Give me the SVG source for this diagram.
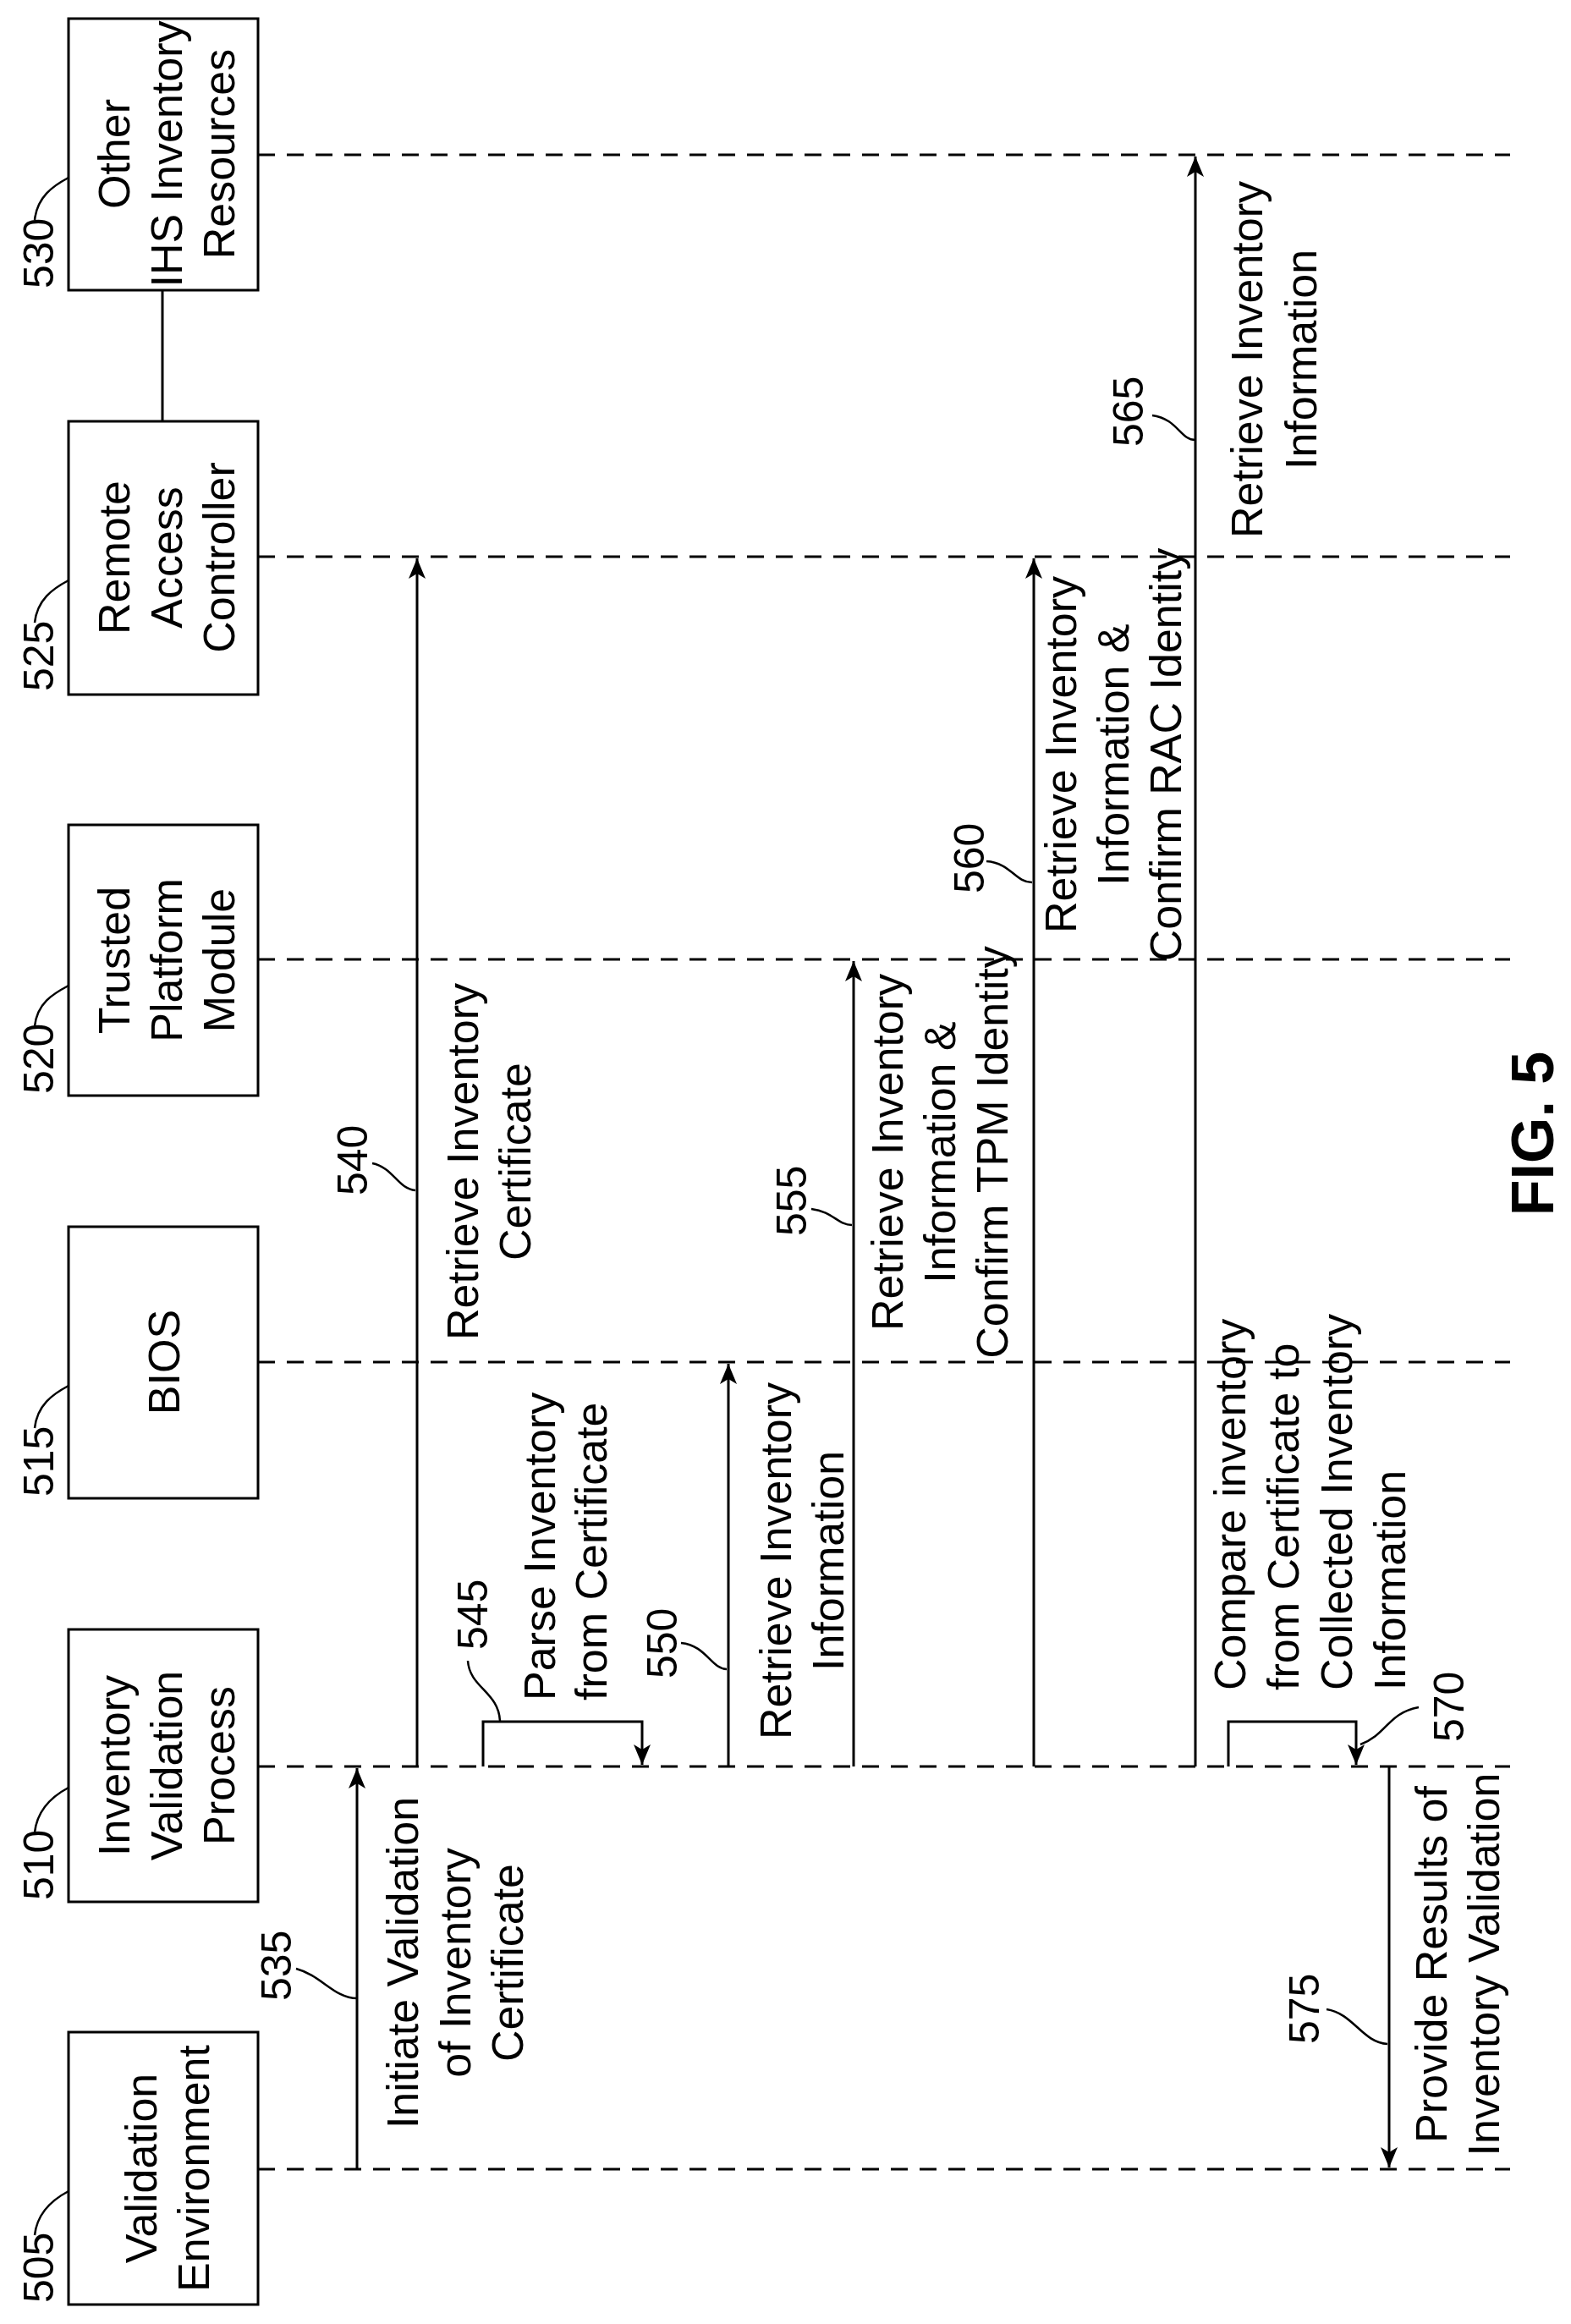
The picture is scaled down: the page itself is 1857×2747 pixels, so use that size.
<svg xmlns="http://www.w3.org/2000/svg" width="1857" height="2747" viewBox="0 0 1857 2747">
<style>
text{font-family:"Liberation Sans",Arial,sans-serif;font-size:52px;fill:#000}
.n{font-size:50px}
.box{fill:#fff;stroke:#000;stroke-width:3}
.life{stroke:#000;stroke-width:3;stroke-dasharray:20 14;fill:none}
.msg{stroke:#000;stroke-width:3;fill:none}
.ld{stroke:#000;stroke-width:2.5;fill:none}
.m{text-anchor:middle}
.e{text-anchor:end}
</style>
<defs>
<marker id="ah" viewBox="0 0 12 10" refX="12" refY="5" markerWidth="8" markerHeight="7" orient="auto" markerUnits="strokeWidth">
<path d="M0,0 L12,5 L0,10 L3,5 z" fill="#000"/>
</marker>
</defs>
<rect width="1857" height="2747" fill="#fff"/>

<g id="lifelines">
<path class="life" d="M305 2564H1785M305 2088H1785M305 1610H1785M305 1134H1785M305 658H1785M305 183H1785"/>
<path class="msg" d="M192 343V498"/>
</g>

<g id="n505">
<rect class="box" x="81" y="2402" width="224" height="322"/>
<text class="m" transform="translate(185,2563) rotate(-90)">Validation</text>
<text class="m" transform="translate(247,2563) rotate(-90)">Environment</text>
<text class="n" transform="translate(63,2722) rotate(-90)">505</text>
<path class="ld" d="M41 2642C44 2615 62 2600 81 2590"/>
</g>
<g id="n510">
<rect class="box" x="81" y="1926" width="224" height="322"/>
<text class="m" transform="translate(153,2087) rotate(-90)">Inventory</text>
<text class="m" transform="translate(215,2087) rotate(-90)">Validation</text>
<text class="m" transform="translate(277,2087) rotate(-90)">Process</text>
<text class="n" transform="translate(63,2246) rotate(-90)">510</text>
<path class="ld" d="M41 2166C44 2139 62 2123 81 2113"/>
</g>
<g id="n515">
<rect class="box" x="81" y="1450" width="224" height="321"/>
<text class="m" transform="translate(212,1610) rotate(-90)">BIOS</text>
<text class="n" transform="translate(63,1769) rotate(-90)">515</text>
<path class="ld" d="M41 1688C44 1661 62 1648 81 1638"/>
</g>
<g id="n520">
<rect class="box" x="81" y="975" width="224" height="320"/>
<text class="m" transform="translate(153,1135) rotate(-90)">Trusted</text>
<text class="m" transform="translate(215,1135) rotate(-90)">Platform</text>
<text class="m" transform="translate(277,1135) rotate(-90)">Module</text>
<text class="n" transform="translate(63,1293) rotate(-90)">520</text>
<path class="ld" d="M41 1213C44 1186 62 1175 81 1165"/>
</g>
<g id="n525">
<rect class="box" x="81" y="498" width="224" height="323"/>
<text class="m" transform="translate(153,659) rotate(-90)">Remote</text>
<text class="m" transform="translate(215,659) rotate(-90)">Access</text>
<text class="m" transform="translate(277,659) rotate(-90)">Controller</text>
<text class="n" transform="translate(63,817) rotate(-90)">525</text>
<path class="ld" d="M41 736C44 709 62 696 81 686"/>
</g>
<g id="n530">
<rect class="box" x="81" y="22" width="224" height="321"/>
<text class="m" transform="translate(153,182) rotate(-90)">Other</text>
<text class="m" transform="translate(215,182) rotate(-90)">IHS Inventory</text>
<text class="m" transform="translate(277,182) rotate(-90)">Resources</text>
<text class="n" transform="translate(63,341) rotate(-90)">530</text>
<path class="ld" d="M41 260C44 233 62 220 81 210"/>
</g>

<g id="connectors">
<path class="msg" d="M422 2564V2090" marker-end="url(#ah)"/>
<path class="msg" d="M493 2088V660" marker-end="url(#ah)"/>
<path class="msg" d="M571 2088V2035H759V2086" marker-end="url(#ah)"/>
<path class="msg" d="M861 2088V1612" marker-end="url(#ah)"/>
<path class="msg" d="M1009 2088V1136" marker-end="url(#ah)"/>
<path class="msg" d="M1222 2088V660" marker-end="url(#ah)"/>
<path class="msg" d="M1413 2088V185" marker-end="url(#ah)"/>
<path class="msg" d="M1452 2088V2035H1603V2086" marker-end="url(#ah)"/>
<path class="msg" d="M1642 2088V2562" marker-end="url(#ah)"/>
</g>

<g id="labels">
<text class="n" transform="translate(344,2365) rotate(-90)">535</text>
<path class="ld" d="M350 2327C380 2335 395 2362 422 2362"/>
<text class="m" transform="translate(494,2320) rotate(-90)">Initiate Validation</text>
<text class="m" transform="translate(556,2320) rotate(-90)">of Inventory</text>
<text class="m" transform="translate(618,2320) rotate(-90)">Certificate</text>

<text class="n" transform="translate(434,1413) rotate(-90)">540</text>
<path class="ld" d="M440 1375C465 1380 470 1405 491 1407"/>
<text class="m" transform="translate(565,1373) rotate(-90)">Retrieve Inventory</text>
<text class="m" transform="translate(627,1373) rotate(-90)">Certificate</text>

<text class="n" transform="translate(576,1950) rotate(-90)">545</text>
<path class="ld" d="M553 1963C555 1995 590 2000 591 2035"/>
<text transform="translate(656,2010) rotate(-90)">Parse Inventory</text>
<text transform="translate(717,2010) rotate(-90)">from Certificate</text>

<text class="n" transform="translate(800,1984) rotate(-90)">550</text>
<path class="ld" d="M805 1942C835 1945 840 1972 859 1973"/>
<text class="m" transform="translate(935,1845) rotate(-90)">Retrieve Inventory</text>
<text class="m" transform="translate(997,1845) rotate(-90)">Information</text>

<text class="n" transform="translate(953,1461) rotate(-90)">555</text>
<path class="ld" d="M959 1429C985 1432 990 1448 1007 1448"/>
<text class="m" transform="translate(1067,1362) rotate(-90)">Retrieve Inventory</text>
<text class="m" transform="translate(1129,1362) rotate(-90)">Information &amp;</text>
<text class="m" transform="translate(1191,1362) rotate(-90)">Confirm TPM Identity</text>

<text class="n" transform="translate(1163,1056) rotate(-90)">560</text>
<path class="ld" d="M1166 1018C1195 1020 1200 1043 1220 1043"/>
<text class="m" transform="translate(1272,892) rotate(-90)">Retrieve Inventory</text>
<text class="m" transform="translate(1334,892) rotate(-90)">Information &amp;</text>
<text class="m" transform="translate(1396,892) rotate(-90)">Confirm RAC Identity</text>

<text class="n" transform="translate(1351,528) rotate(-90)">565</text>
<path class="ld" d="M1362 491C1392 495 1395 520 1413 520"/>
<text class="m" transform="translate(1492,425) rotate(-90)">Retrieve Inventory</text>
<text class="m" transform="translate(1556,425) rotate(-90)">Information</text>

<text class="n" transform="translate(1730,2059) rotate(-90)">570</text>
<path class="ld" d="M1677 2018C1640 2025 1640 2050 1608 2062"/>
<text transform="translate(1472,1998) rotate(-90)">Compare inventory</text>
<text transform="translate(1535,1998) rotate(-90)">from Certificate to</text>
<text transform="translate(1598,1998) rotate(-90)">Collected Inventory</text>
<text transform="translate(1661,1998) rotate(-90)">Information</text>

<text class="n" transform="translate(1559,2416) rotate(-90)">575</text>
<path class="ld" d="M1568 2375C1600 2380 1610 2414 1640 2416"/>
<text class="m" transform="translate(1710,2322) rotate(-90)">Provide Results of</text>
<text class="m" transform="translate(1772,2322) rotate(-90)">Inventory Validation</text>

<text class="m" style="font-size:70px;font-weight:bold" transform="translate(1836,1340) rotate(-90)">FIG. 5</text>
</g>
</svg>
